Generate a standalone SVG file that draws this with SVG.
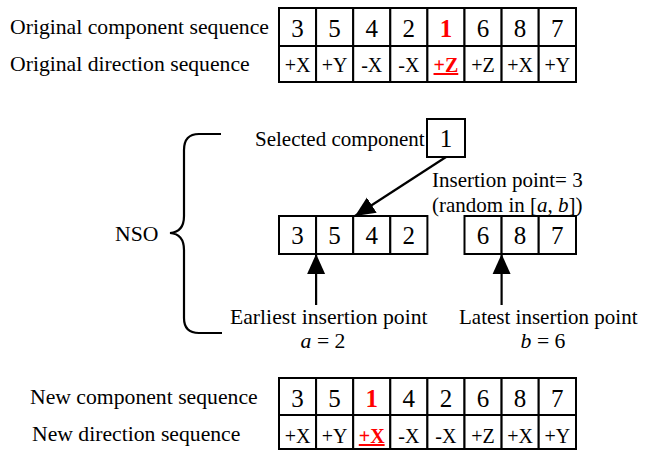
<svg xmlns="http://www.w3.org/2000/svg" width="645" height="450" viewBox="0 0 645 450" font-family="'Liberation Serif', 'Times New Roman', serif">
<style>
text{font-family:'Liberation Serif','Times New Roman',serif;fill:#000}
.lbl{font-size:21.7px}
.sm{font-size:21px}
.num{font-size:25px;text-anchor:middle}
.dir{font-size:20px;text-anchor:middle}
.red{fill:#ff0000;font-weight:bold}
.ul{text-decoration:underline}
.cell{fill:#fff;stroke:#000;stroke-width:2}
.ln{stroke:#000;stroke-width:2.2;fill:none}
</style>
<defs>
<marker id="ah" markerUnits="userSpaceOnUse" markerWidth="20" markerHeight="20" viewBox="0 0 20 20" refX="20" refY="10" orient="auto">
<path d="M0,1 L20,10 L0,19 Z" fill="#000"/>
</marker>
</defs>

<g id="orig-labels">
<text class="lbl" x="10" y="34">Original component sequence</text>
<text class="lbl" x="10" y="71">Original direction sequence</text>
</g>

<g id="orig-table">
<rect class="cell" x="279" y="8" width="37.1" height="38"/>
<rect class="cell" x="316.1" y="8" width="37.1" height="38"/>
<rect class="cell" x="353.2" y="8" width="37.1" height="38"/>
<rect class="cell" x="390.3" y="8" width="37.1" height="38"/>
<rect class="cell" x="427.4" y="8" width="37.1" height="38"/>
<rect class="cell" x="464.5" y="8" width="37.1" height="38"/>
<rect class="cell" x="501.6" y="8" width="37.1" height="38"/>
<rect class="cell" x="538.7" y="8" width="37.3" height="38"/>
<rect class="cell" x="279" y="46" width="37.1" height="36"/>
<rect class="cell" x="316.1" y="46" width="37.1" height="36"/>
<rect class="cell" x="353.2" y="46" width="37.1" height="36"/>
<rect class="cell" x="390.3" y="46" width="37.1" height="36"/>
<rect class="cell" x="427.4" y="46" width="37.1" height="36"/>
<rect class="cell" x="464.5" y="46" width="37.1" height="36"/>
<rect class="cell" x="501.6" y="46" width="37.1" height="36"/>
<rect class="cell" x="538.7" y="46" width="37.3" height="36"/>
<text class="num" x="297.5" y="37">3</text>
<text class="num" x="334.6" y="37">5</text>
<text class="num" x="371.7" y="37">4</text>
<text class="num" x="408.8" y="37">2</text>
<text class="num red" x="445.9" y="37">1</text>
<text class="num" x="483" y="37">6</text>
<text class="num" x="520.1" y="37">8</text>
<text class="num" x="557.3" y="37">7</text>
<text class="dir" x="297.5" y="72">+X</text>
<text class="dir" x="334.6" y="72">+Y</text>
<text class="dir" x="371.7" y="72">-X</text>
<text class="dir" x="408.8" y="72">-X</text>
<text class="dir red ul" x="445.9" y="72">+Z</text>
<text class="dir" x="483" y="72">+Z</text>
<text class="dir" x="520.1" y="72">+X</text>
<text class="dir" x="557.3" y="72">+Y</text>
</g>

<g id="nso">
<path class="ln" d="M221,134 H199 Q184,134 184,150 V216 Q184,232 170,233 Q184,234 184,250 V318 Q184,333 199,333 H222"/>
<text class="lbl" x="115" y="241">NSO</text>
</g>

<g id="selected">
<text class="sm" x="255" y="146">Selected component</text>
<rect class="cell" x="427" y="119" width="38" height="38"/>
<text class="num" x="446" y="147">1</text>
</g>

<g id="left-part">
<rect class="cell" x="279" y="216" width="37.1" height="38"/>
<rect class="cell" x="316.1" y="216" width="37.1" height="38"/>
<rect class="cell" x="353.2" y="216" width="37.1" height="38"/>
<rect class="cell" x="390.3" y="216" width="37.1" height="38"/>
<text class="num" x="297.5" y="244">3</text>
<text class="num" x="334.6" y="244">5</text>
<text class="num" x="371.7" y="244">4</text>
<text class="num" x="408.8" y="244">2</text>
</g>

<g id="right-part">
<rect class="cell" x="464.5" y="216" width="37.1" height="38"/>
<rect class="cell" x="501.6" y="216" width="37.1" height="38"/>
<rect class="cell" x="538.7" y="216" width="37.3" height="38"/>
<text class="num" x="483" y="244">6</text>
<text class="num" x="520.1" y="244">8</text>
<text class="num" x="557.3" y="244">7</text>
</g>

<g id="insertion-label">
<text class="sm" x="432" y="187">Insertion point= 3</text>
<text class="sm" x="432" y="212">(random in [<tspan font-style="italic">a</tspan>, <tspan font-style="italic">b</tspan>])</text>
</g>

<g id="earliest-label">
<text class="lbl" x="230" y="324">Earliest insertion point</text>
<text class="lbl" x="323" y="348" text-anchor="middle"><tspan font-style="italic">a</tspan> = 2</text>
</g>

<g id="latest-label">
<text class="sm" x="459" y="324">Latest insertion point</text>
<text class="lbl" x="543" y="348" text-anchor="middle"><tspan font-style="italic">b</tspan> = 6</text>
</g>

<g id="connectors">
<line class="ln" x1="446" y1="157" x2="355" y2="216" marker-end="url(#ah)"/>
<line class="ln" x1="316.1" y1="305" x2="316.1" y2="254" marker-end="url(#ah)"/>
<line class="ln" x1="501.6" y1="305" x2="501.6" y2="254" marker-end="url(#ah)"/>
</g>

<g id="new-labels">
<text class="lbl" x="30" y="404">New component sequence</text>
<text class="lbl" x="32" y="441">New direction sequence</text>
</g>

<g id="new-table">
<rect class="cell" x="279" y="378" width="37.1" height="37"/>
<rect class="cell" x="316.1" y="378" width="37.1" height="37"/>
<rect class="cell" x="353.2" y="378" width="37.1" height="37"/>
<rect class="cell" x="390.3" y="378" width="37.1" height="37"/>
<rect class="cell" x="427.4" y="378" width="37.1" height="37"/>
<rect class="cell" x="464.5" y="378" width="37.1" height="37"/>
<rect class="cell" x="501.6" y="378" width="37.1" height="37"/>
<rect class="cell" x="538.7" y="378" width="37.3" height="37"/>
<rect class="cell" x="279" y="415" width="37.1" height="34"/>
<rect class="cell" x="316.1" y="415" width="37.1" height="34"/>
<rect class="cell" x="353.2" y="415" width="37.1" height="34"/>
<rect class="cell" x="390.3" y="415" width="37.1" height="34"/>
<rect class="cell" x="427.4" y="415" width="37.1" height="34"/>
<rect class="cell" x="464.5" y="415" width="37.1" height="34"/>
<rect class="cell" x="501.6" y="415" width="37.1" height="34"/>
<rect class="cell" x="538.7" y="415" width="37.3" height="34"/>
<text class="num" x="297.5" y="407">3</text>
<text class="num" x="334.6" y="407">5</text>
<text class="num red" x="371.7" y="407">1</text>
<text class="num" x="408.8" y="407">4</text>
<text class="num" x="445.9" y="407">2</text>
<text class="num" x="483" y="407">6</text>
<text class="num" x="520.1" y="407">8</text>
<text class="num" x="557.3" y="407">7</text>
<text class="dir" x="297.5" y="443">+X</text>
<text class="dir" x="334.6" y="443">+Y</text>
<text class="dir red ul" x="371.7" y="443">+X</text>
<text class="dir" x="408.8" y="443">-X</text>
<text class="dir" x="445.9" y="443">-X</text>
<text class="dir" x="483" y="443">+Z</text>
<text class="dir" x="520.1" y="443">+X</text>
<text class="dir" x="557.3" y="443">+Y</text>
</g>
</svg>
